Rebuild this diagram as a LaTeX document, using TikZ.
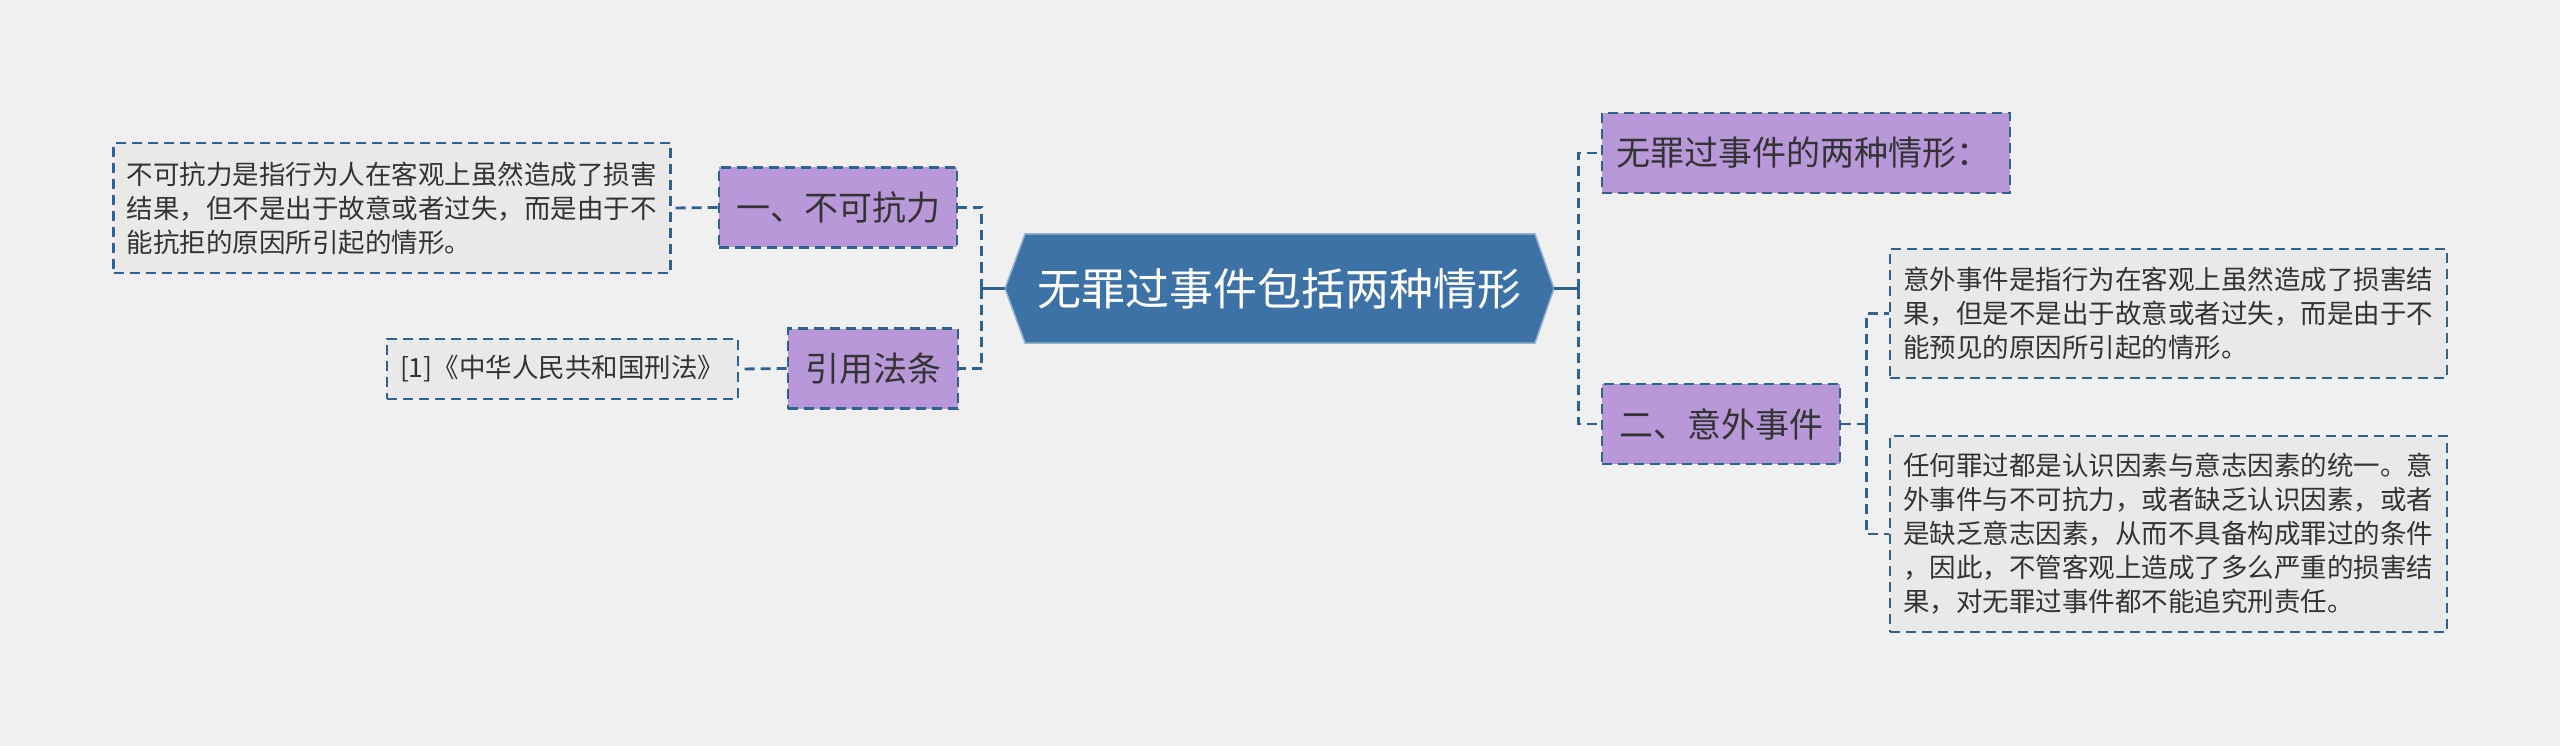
\documentclass[tikz,border=0pt]{standalone}
\usepackage{fontspec}
\setmainfont{Noto Sans CJK SC}
\definecolor{bg}{HTML}{F0F0F0}
\definecolor{cblue}{HTML}{3C72A5}
\definecolor{lblue}{HTML}{2E6290}
\definecolor{purp}{HTML}{B898D8}
\definecolor{tbox}{HTML}{E9E9E9}
\definecolor{txt}{HTML}{333333}
\begin{document}
\begin{tikzpicture}[x=1pt,y=-1pt,
  dashline/.style={draw=lblue,line width=2.8pt,dash pattern=on 10pt off 6pt},
  solidline/.style={draw=lblue,line width=2.8pt},
  headbox/.style={dashline,fill=purp,text=txt,inner sep=0pt,minimum height=80pt,
    font=\fontsize{34}{40}\selectfont},
  textbox/.style={dashline,fill=tbox,text=txt,inner xsep=13pt,inner ysep=0pt,
    text width=531pt,align=left,font=\fontsize{26.5}{34}\selectfont},
  centernode/.style={inner sep=0pt,minimum width=549pt,minimum height=109pt,
    text=white,font=\fontsize{44}{50}\selectfont}]
\fill[bg] (0,0) rectangle (2560,746);
\useasboundingbox (0,0) rectangle (2560,746);
% center hexagon
\filldraw[fill=cblue,draw=cblue!55!white,line width=1.5pt] (1005,288.5) -- (1025,234) -- (1535,234) -- (1554,288.5) -- (1535,343) -- (1025,343) -- cycle;
\node[centernode] (c) at (1279.5,288.5) {无罪过事件包括两种情形};
% left side
\node[headbox,minimum width=238pt] (n1) at (838,207.5) {一、不可抗力};
\node[headbox,minimum width=170pt] (n2) at (873,368.5) {引用法条};
\node[textbox,minimum height=130pt] (lt) at (392,208) {不可抗力是指行为人在客观上虽然造成了损害\\结果，但不是出于故意或者过失，而是由于不\\能抗拒的原因所引起的情形。};
\node[textbox,text width=325pt,minimum height=60pt] (ref) at (562.5,369) {[1]《中华人民共和国刑法》};
% right side
\node[headbox,minimum width=408pt,align=left,text width=380pt,inner xsep=14pt] (r1) at (1806,153) {无罪过事件的两种情形：};
\node[headbox,minimum width=238pt] (r2) at (1721,424) {二、意外事件};
\node[textbox,minimum height=129pt] (t1) at (2168.5,313.5) {意外事件是指行为在客观上虽然造成了损害结\\果，但是不是出于故意或者过失，而是由于不\\能预见的原因所引起的情形。};
\node[textbox,minimum height=196pt] (t2) at (2168.5,534) {任何罪过都是认识因素与意志因素的统一。意\\外事件与不可抗力，或者缺乏认识因素，或者\\是缺乏意志因素，从而不具备构成罪过的条件\\，因此，不管客观上造成了多么严重的损害结\\果，对无罪过事件都不能追究刑责任。};
% connectors
\coordinate (lb) at ([xshift=-23pt]c.west);
\coordinate (rb) at ([xshift=24pt]c.east);
\coordinate (r2b) at ([xshift=25pt]r2.east);
\draw[solidline] (c.west) -- (lb);
\draw[solidline] (c.east) -- (rb);
\draw[dashline] (lb) |- (n1.east);
\draw[dashline] (lb) |- (n2.east);
\draw[dashline] (n1.west) -- (lt.east);
\draw[dashline] (n2.west) -- (ref.east);
\draw[dashline] (rb) |- (r1.west);
\draw[dashline] (rb) |- (r2.west);
\draw[dashline] (r2.east) -- (r2b);
\draw[dashline] (r2b) |- (t1.west);
\draw[dashline] (r2b) |- (t2.west);
\end{tikzpicture}
\end{document}
